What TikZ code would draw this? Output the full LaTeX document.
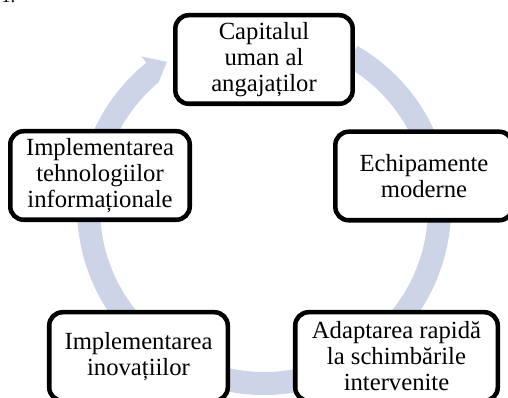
\documentclass[tikz,border=0pt]{standalone}
\usepackage{fontspec}
\setmainfont{Liberation Serif}
\usetikzlibrary{calc}
\definecolor{inel}{RGB}{206,212,232}
\tikzset{
  etapa/.style={draw=black, line width=3.4pt, fill=white, rounded corners=10pt,
    align=center, inner sep=0pt, minimum height=66.4pt,
    font=\fontsize{18.5}{19.5}\selectfont}
}

\begin{document}
\begin{tikzpicture}[x=0.75pt,y=0.75pt]
  \useasboundingbox (0,0) rectangle (508,398);
  \node[anchor=base west, inner sep=0pt, font=\fontsize{14}{16}\selectfont] (nr) at (1,395) {1.};
  % inelul cu sageata
  \coordinate (m) at (264,190);
  \fill[inel] ($(m)+(60:187)$) arc[start angle=60, end angle=-231, radius=187]
    -- ($(m)+(-231:195)$) -- ($(m)+(-236.4:175.5)$) -- ($(m)+(-230:164)$)
    arc[start angle=-230, end angle=60, radius=164] -- cycle;
  % etapele
  \node[etapa, minimum width=133pt] (capital) at (264,338.5) {Capitalul\\uman al\\angajaților};
  \node[etapa, minimum width=133pt] (echip) at (424,222) {Echipamente\\moderne};
  \node[etapa, minimum width=134.6pt] (tehno) at (100,222.5) {Implementarea\\tehnologiilor\\informaționale};
  \node[etapa, minimum width=133.9pt] (inov) at (138.5,41.5) {Implementarea\\inovațiilor};
  \node[etapa, minimum width=151.9pt] (adapt) at (396.5,41.5) {Adaptarea rapidă\\la schimbările\\intervenite};
\end{tikzpicture}
\end{document}
